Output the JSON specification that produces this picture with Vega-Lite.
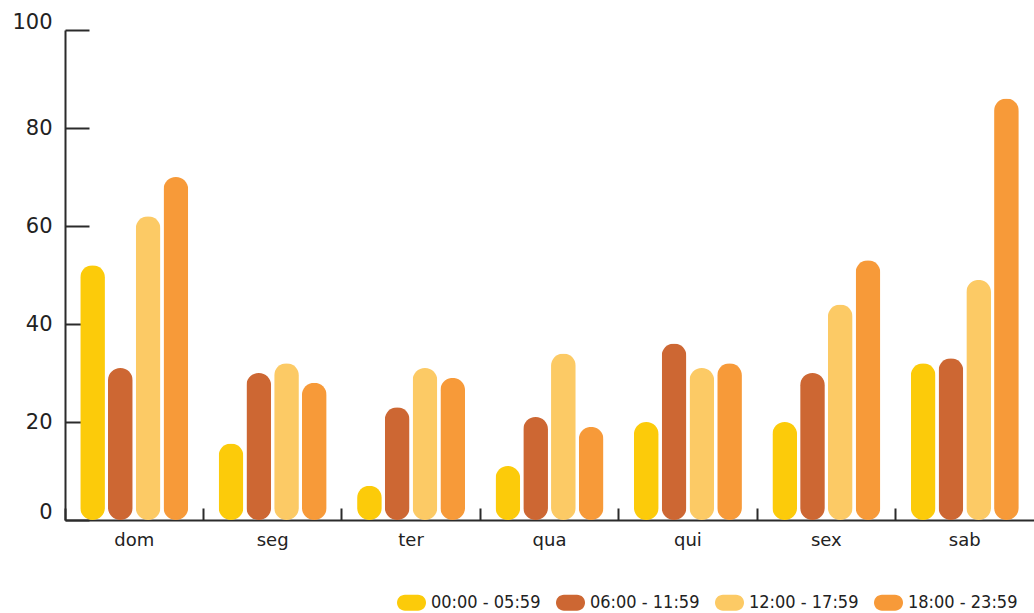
{
  "$schema": "https://vega.github.io/schema/vega-lite/v6.json",
  "width": 969,
  "height": 490,
  "autosize": "none",
  "padding": {"left": 65, "top": 30, "right": 0, "bottom": 93},
  "background": "white",
  "config": {
    "view": {"stroke": null},
    "font": "DejaVu Sans"
  },
  "data": {
    "values": [
      {"dia": "dom", "periodo": "00:00 - 05:59", "valor": 52},
      {"dia": "dom", "periodo": "06:00 - 11:59", "valor": 31},
      {"dia": "dom", "periodo": "12:00 - 17:59", "valor": 62},
      {"dia": "dom", "periodo": "18:00 - 23:59", "valor": 70},
      {"dia": "seg", "periodo": "00:00 - 05:59", "valor": 15.6},
      {"dia": "seg", "periodo": "06:00 - 11:59", "valor": 30},
      {"dia": "seg", "periodo": "12:00 - 17:59", "valor": 32},
      {"dia": "seg", "periodo": "18:00 - 23:59", "valor": 28},
      {"dia": "ter", "periodo": "00:00 - 05:59", "valor": 7},
      {"dia": "ter", "periodo": "06:00 - 11:59", "valor": 23},
      {"dia": "ter", "periodo": "12:00 - 17:59", "valor": 31},
      {"dia": "ter", "periodo": "18:00 - 23:59", "valor": 29},
      {"dia": "qua", "periodo": "00:00 - 05:59", "valor": 11},
      {"dia": "qua", "periodo": "06:00 - 11:59", "valor": 21},
      {"dia": "qua", "periodo": "12:00 - 17:59", "valor": 34},
      {"dia": "qua", "periodo": "18:00 - 23:59", "valor": 19},
      {"dia": "qui", "periodo": "00:00 - 05:59", "valor": 20},
      {"dia": "qui", "periodo": "06:00 - 11:59", "valor": 36},
      {"dia": "qui", "periodo": "12:00 - 17:59", "valor": 31},
      {"dia": "qui", "periodo": "18:00 - 23:59", "valor": 32},
      {"dia": "sex", "periodo": "00:00 - 05:59", "valor": 20},
      {"dia": "sex", "periodo": "06:00 - 11:59", "valor": 30},
      {"dia": "sex", "periodo": "12:00 - 17:59", "valor": 44},
      {"dia": "sex", "periodo": "18:00 - 23:59", "valor": 53},
      {"dia": "sab", "periodo": "00:00 - 05:59", "valor": 32},
      {"dia": "sab", "periodo": "06:00 - 11:59", "valor": 33},
      {"dia": "sab", "periodo": "12:00 - 17:59", "valor": 49},
      {"dia": "sab", "periodo": "18:00 - 23:59", "valor": 86}
    ]
  },
  "resolve": {"axis": {"x": "independent"}},
  "layer": [
    {
      "mark": {"type": "bar", "cornerRadius": 12.3},
      "encoding": {
        "x": {
          "field": "dia", "type": "nominal", "sort": ["dom", "seg", "ter", "qua", "qui", "sex", "sab"],
          "scale": {"paddingInner": 0.22, "paddingOuter": 0.11},
          "axis": {
            "orient": "bottom", "title": null, "ticks": false, "domain": true,
            "domainColor": "#2b2b2b", "domainWidth": 2,
            "labelFont": "DejaVu Sans", "labelFontSize": 18, "labelColor": "#222", "labelPadding": 11,
            "labelAngle": 0
          }
        },
        "xOffset": {
          "field": "periodo", "type": "nominal",
          "scale": {"paddingInner": 0.11, "paddingOuter": 0}
        },
        "y": {
          "field": "valor", "type": "quantitative",
          "scale": {"domain": [0, 100], "nice": false},
          "axis": {
            "title": null, "values": [0, 20, 40, 60, 80, 100], "grid": false,
            "domainColor": "#2b2b2b", "domainWidth": 2,
            "tickColor": "#2b2b2b", "tickWidth": 2, "tickSize": -24,
            "labelFont": "DejaVu Sans", "labelFontSize": 21, "labelColor": "#222", "labelPadding": 37,
            "labelFlush": false,
            "labelOffset": {"condition": {"test": "datum.value === 0 || datum.value === 100", "value": -8}, "value": 0}
          }
        },
        "color": {
          "field": "periodo", "type": "nominal",
          "scale": {
            "domain": ["00:00 - 05:59", "06:00 - 11:59", "12:00 - 17:59", "18:00 - 23:59"],
            "range": ["#FCCB0A", "#CD6733", "#FCCA65", "#F79A39"]
          },
          "legend": {
            "title": null, "orient": "none", "direction": "horizontal",
            "legendX": 332, "legendY": 558,
            "symbolType": "M-0.45,-0.55L0.45,-0.55A0.55,0.55,0,0,1,0.45,0.55L-0.45,0.55A0.55,0.55,0,0,1,-0.45,-0.55Z",
            "symbolSize": 841, "symbolStrokeWidth": 0, "symbolOpacity": 1,
            "labelFont": "DejaVu Sans Condensed", "labelFontSize": 18, "labelColor": "#222",
            "labelOffset": 5, "columnPadding": 15
          }
        }
      }
    },
    {
      "mark": {"type": "bar", "opacity": 0},
      "encoding": {
        "x": {
          "field": "dia", "type": "nominal", "sort": ["dom", "seg", "ter", "qua", "qui", "sex", "sab"],
          "axis": {
            "orient": "bottom", "title": null, "labels": false, "domain": false,
            "bandPosition": -0.141, "ticks": true, "tickSize": -12, "tickWidth": 2, "tickColor": "#2b2b2b"
          }
        },
        "y": {"field": "valor", "type": "quantitative"}
      }
    }
  ]
}
